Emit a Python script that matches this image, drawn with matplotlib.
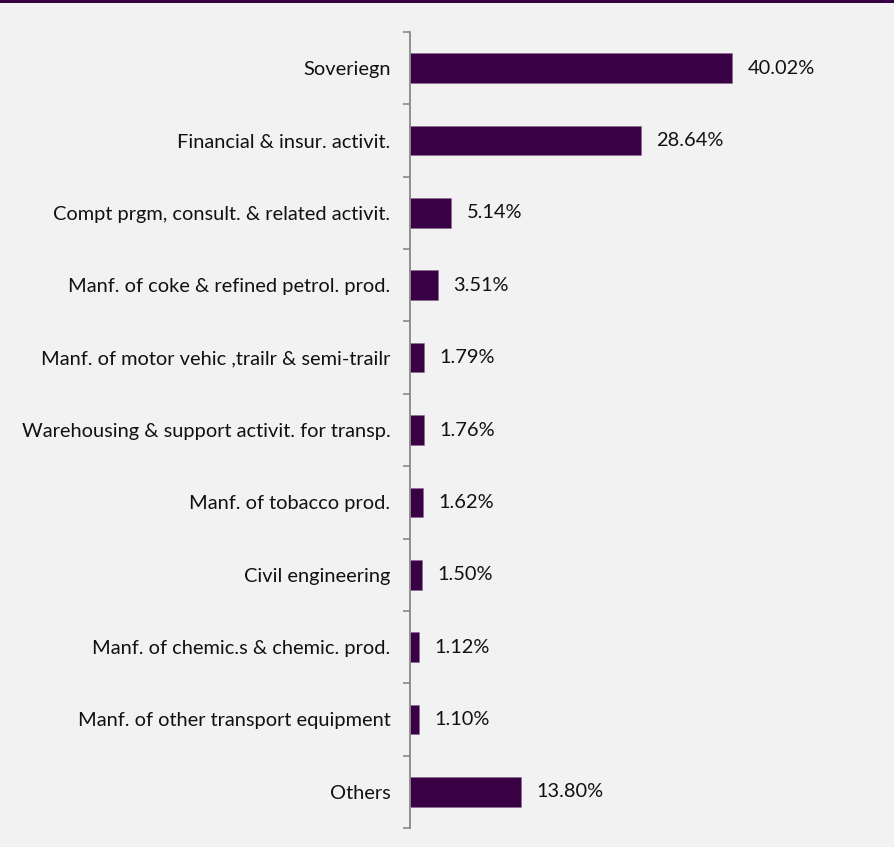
import matplotlib.pyplot as plt
import matplotlib.patches as mpatches
import numpy as np

categories = [
    "Soveriegn",
    "Financial & insur. activit.",
    "Compt prgm, consult. & related activit.",
    "Manf. of coke & refined petrol. prod.",
    "Manf. of motor vehic ,trailr & semi-trailr",
    "Warehousing & support activit. for transp.",
    "Manf. of tobacco prod.",
    "Civil engineering",
    "Manf. of chemic.s & chemic. prod.",
    "Manf. of other transport equipment",
    "Others",
]
values = [40.02, 28.64, 5.14, 3.51, 1.79, 1.76, 1.62, 1.50, 1.12, 1.10, 13.80]

bar_color = "#3a0044"
bg = "#f2f2f2"
plt.rcParams['font.family'] = ['Lato', 'DejaVu Sans']

fig = plt.figure(figsize=(8.95, 8.47), dpi=100, facecolor=bg)
ax = fig.add_axes([410/895, 1-828/847, 475/895, 796/847])
ax.set_facecolor(bg)

y = np.arange(len(categories))
bars = ax.barh(y, values, height=0.41, color=bar_color, edgecolor="#8a6a90", linewidth=0.4)
ax.set_ylim(len(categories)-0.5, -0.5)
ax.set_xlim(0, 475/8.05)

ax.set_yticks(y)
ax.set_yticklabels(categories, fontsize=14.4, color="#111111")
ax.set_yticks(np.arange(len(categories)+1)-0.5, minor=True)
ax.tick_params(axis='y', which='major', length=0, pad=14)
ax.tick_params(axis='y', which='minor', length=5, width=1.2, color="#888888")
ax.set_xticks([])

for s in ['top', 'right', 'bottom']:
    ax.spines[s].set_visible(False)
ax.spines['left'].set_color("#888888")
ax.spines['left'].set_linewidth(1.3)

for rect, v in zip(bars, values):
    ax.annotate('%.2f%%' % v, (rect.get_width(), rect.get_y()+rect.get_height()/2),
                xytext=(11, 0), textcoords='offset points',
                ha='left', va='center', fontsize=14.4, color="#111111")

# purple band at top
fig.add_artist(mpatches.Rectangle((0, 1-3/847), 1, 3/847, transform=fig.transFigure,
                                  color=bar_color, lw=0))

fig.savefig("out.png", dpi=100, facecolor=bg)
